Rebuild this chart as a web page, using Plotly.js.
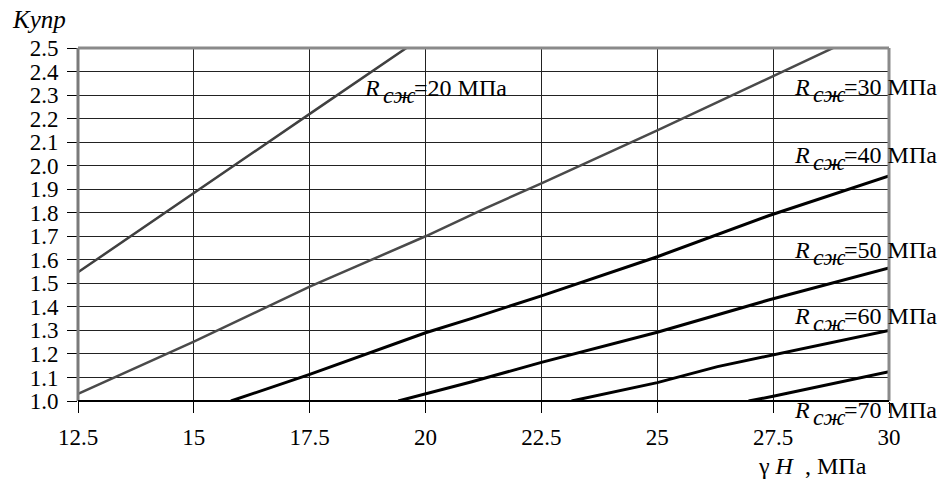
<!DOCTYPE html>
<html>
<head>
<meta charset="utf-8">
<script src="https://cdn.plot.ly/plotly-3.0.1.min.js"></script>
<style>html,body{margin:0;padding:0;background:#fff;}#chart{width:946px;height:479px;}</style>
</head>
<body>
<div id="chart"></div>
<script>
const xTickVals = [12.5, 15, 17.5, 20, 22.5, 25, 27.5, 30];
const xTickText = ["12.5", "15", "17.5", "20", "22.5", "25", "27.5", "30"];
const yTickVals = [1.0, 1.1, 1.2, 1.3, 1.4, 1.5, 1.6, 1.7, 1.8, 1.9, 2.0, 2.1, 2.2, 2.3, 2.4, 2.5];

const seriesNames = ["20", "30", "40", "50", "60", "70"];
const x20 = [12.5, 15, 17.5, 19.63];
const y20 = [1.547, 1.885, 2.22, 2.506];
const x30 = [12.5, 15, 17.5, 20, 21.3, 22.5, 25, 27.5, 28.9];
const y30 = [1.03, 1.252, 1.486, 1.70, 1.82, 1.925, 2.15, 2.38, 2.51];
const x40 = [15.8, 17.5, 20, 21.0, 22.5, 25, 27.4, 30];
const y40 = [1.0, 1.113, 1.29, 1.351, 1.447, 1.613, 1.787, 1.956];
const x50 = [19.41, 21.0, 22.5, 25, 27.4, 30];
const y50 = [1.0, 1.082, 1.164, 1.292, 1.429, 1.565];
const x60 = [23.15, 25, 26.3, 27.4, 30];
const y60 = [1.0, 1.078, 1.146, 1.191, 1.30];
const x70 = [26.97, 27.5, 30];
const y70 = [1.0, 1.02, 1.124];

const xs = [x20, x30, x40, x50, x60, x70];
const ys = [y20, y30, y40, y50, y60, y70];
const colors = ["#404040", "#4a4a4a", "#000", "#000", "#000", "#000"];
const widths = [2.5, 2.5, 3, 3, 3, 3];
const FONT = "Liberation Serif";

const traces = xs.map((x, i) => ({
  x: x, y: ys[i], type: "scatter", mode: "lines",
  line: {color: colors[i], width: widths[i]},
  hoverinfo: "skip", showlegend: false
}));

const PL = 78, PR = 889, PT = 48, PB = 401;
const labelPx = [[362, 88], [792, 87], [792, 155], [792, 250], [792, 316], [792, 410]];
const annotations = [];
seriesNames.forEach((n, i) => {
  const px = labelPx[i][0], py = labelPx[i][1];
  const base = {xref: "paper", yref: "paper", x: (px - PL) / (PR - PL), y: (PB - py) / (PB - PT),
                xanchor: "left", yanchor: "middle", showarrow: false,
                font: {family: FONT, size: 24, color: "#000"}};
  annotations.push(Object.assign({}, base, {text: "<i>R</i>"}));
  annotations.push(Object.assign({}, base, {text: "<i>сж</i>", xshift: 19, yshift: -7}));
  annotations.push(Object.assign({}, base, {text: "=" + n + " МПа", xshift: 50}));
});
annotations.push({xref: "paper", yref: "paper", x: (10 - PL) / (PR - PL), y: (PB - 20) / (PB - PT),
  xanchor: "left", yanchor: "middle", showarrow: false,
  text: "<i>Kупр</i>", font: {family: FONT, size: 25, color: "#000"}});
annotations.push({xref: "paper", yref: "paper", x: (756 - PL) / (PR - PL), y: (PB - 466) / (PB - PT),
  xanchor: "left", yanchor: "middle", showarrow: false,
  text: "γ <i>H</i>  , МПа", font: {family: FONT, size: 24, color: "#000"}});

const layout = {
  width: 946, height: 479,
  margin: {l: PL, r: 946 - PR, t: PT, b: 479 - PB},
  font: {family: FONT, size: 23, color: "#000"},
  xaxis: {range: [12.5, 30], tickvals: xTickVals, ticktext: xTickText,
    ticks: "outside", ticklen: 11, tickwidth: 1, tickcolor: "#000",
    showgrid: true, gridcolor: "#222", gridwidth: 1,
    showline: false, zeroline: false, fixedrange: true, ticklabelstandoff: 4},
  yaxis: {range: [1.0, 2.5], tickvals: yTickVals, tickformat: ".1f",
    ticks: "outside", ticklen: 10, tickwidth: 1, tickcolor: "#000",
    showgrid: true, gridcolor: "#222", gridwidth: 1,
    showline: false, zeroline: false, fixedrange: true, ticklabelstandoff: 4},
  shapes: [
    {type: "line", xref: "paper", yref: "paper", x0: 0, x1: 0, y0: 0, y1: 1, line: {color: "#7a7a7a", width: 3}},
    {type: "line", xref: "paper", yref: "paper", x0: 0, x1: 1, y0: 1, y1: 1, line: {color: "#8a8a8a", width: 3}},
    {type: "line", xref: "paper", yref: "paper", x0: 1, x1: 1, y0: 0, y1: 1, line: {color: "#8a8a8a", width: 3}},
    {type: "line", xref: "paper", yref: "paper", x0: 0, x1: 1, y0: 0, y1: 0, line: {color: "#000", width: 2}}
  ],
  annotations: annotations
};

Plotly.newPlot("chart", traces, layout, {staticPlot: true});
</script>
</body>
</html>
